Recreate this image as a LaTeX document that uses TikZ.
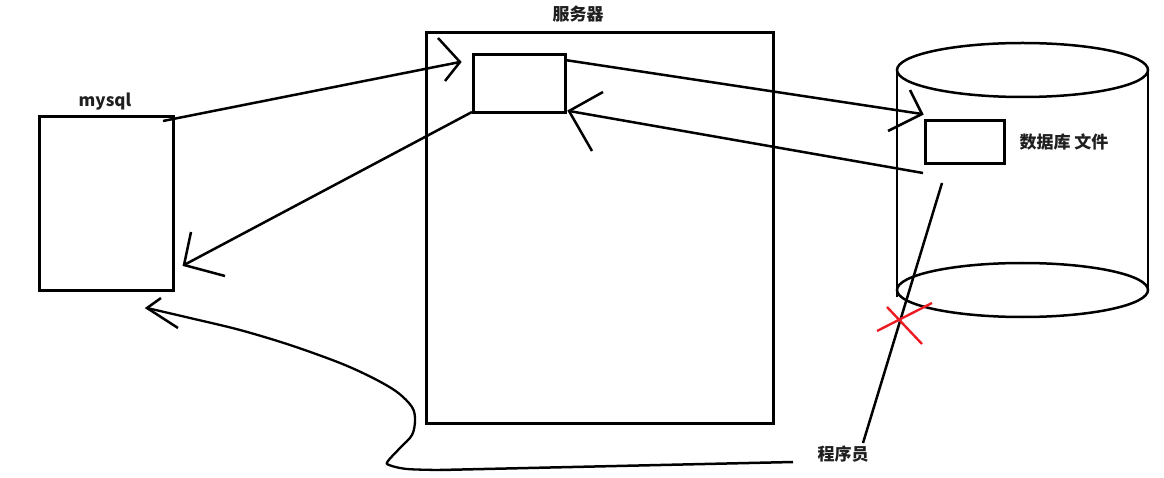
\documentclass[tikz,border=0pt]{standalone}
\usepackage{fontspec}
\newfontfamily\cjk{Noto Sans CJK SC}
\tikzset{
  box/.style={draw, line width=2.8pt, anchor=north west, inner sep=0pt, minimum width=#1},
  ln/.style={line width=2.5pt},
  lbl/.style={font=\cjk\bfseries\fontsize{17}{17}\selectfont, inner sep=0pt, text=black!88},
  cross/.style={line width=2.4pt, draw={rgb,255:red,237;green,28;blue,36}}
}
\begin{document}
\begin{tikzpicture}[x=1pt,y=-1pt]
\useasboundingbox (0,0) rectangle (1164,478);
% boxes
\node[box=347pt, minimum height=391pt] (server) at (425,31) {};
\node[box=92pt, minimum height=58pt] (inner) at (472,53) {};
\node[box=134pt, minimum height=174pt] (mysql) at (38,115) {};
\node[box=79pt, minimum height=43pt] (dbfile) at (924,119) {};
% cylinder
\coordinate (cyltop) at (1022.5,70);
\coordinate (cylbot) at (1022.5,290);
\draw[ln] (cyltop) ellipse [x radius=125.5pt, y radius=27pt];
\draw[ln] (cylbot) ellipse [x radius=125.5pt, y radius=27pt];
\draw[ln] (cyltop) ++(-125.5,0) -- ++(0,227);
\draw[ln] (cyltop) ++(125.5,0) -- ++(0,220);
% labels
\node[lbl] (lserver) at (578,14) {服务器};
\node[lbl] (lmysql) at (105,102) {mysql};
\node[lbl] (ldb) at (1064,142) {数据库 文件};
\node[lbl] (lprog) at (843,454) {程序员};
% arrow 1: mysql -> server inner
\coordinate (a1s) at (163,121);
\coordinate (a1t) at (460,62);
\draw[ln] (a1s) -- (a1t);
\draw[ln] (438,38) -- (a1t) -- (445,81);
% arrow 2: inner -> mysql
\coordinate (a2s) at (472,112);
\coordinate (a2t) at (184,265);
\draw[ln] (a2s) -- (a2t);
\draw[ln] (191,232) -- (a2t) -- (225,276);
% arrow 3: inner -> db file
\coordinate (a3s) at (565,60);
\coordinate (a3t) at (922,114);
\draw[ln] (a3s) -- (a3t);
\draw[ln] (910,90) -- (a3t) -- (888,131);
% arrow 4: db -> inner
\coordinate (a4s) at (923,173);
\coordinate (a4t) at (569,111);
\draw[ln] (a4s) -- (a4t);
\draw[ln] (603,92) -- (a4t) -- (592,151);
% programmer line
\coordinate (ps) at (863,443);
\coordinate (pt) at (942,183);
\draw[ln] (ps) -- (pt);
% red cross
\draw[cross] (877,331) -- (932,303);
\draw[cross] (887,307) -- (922,344);
% curved arrow
\coordinate (cs) at (793,462);
\coordinate (ct) at (147,308);
\draw[ln] (cs) -- (440,470);
\draw[ln, line width=2.3pt] plot[smooth, tension=0.55] coordinates {(440,470) (407,469) (389,465) (388,461) (400,448) (412,435) (415,420) (412,407) (397,392) (373,378) (340,363) (290,345) (240,330) (190,318) (147,308)};
\draw[ln] (161,298) -- (ct) -- (178,328);
\end{tikzpicture}
\end{document}
